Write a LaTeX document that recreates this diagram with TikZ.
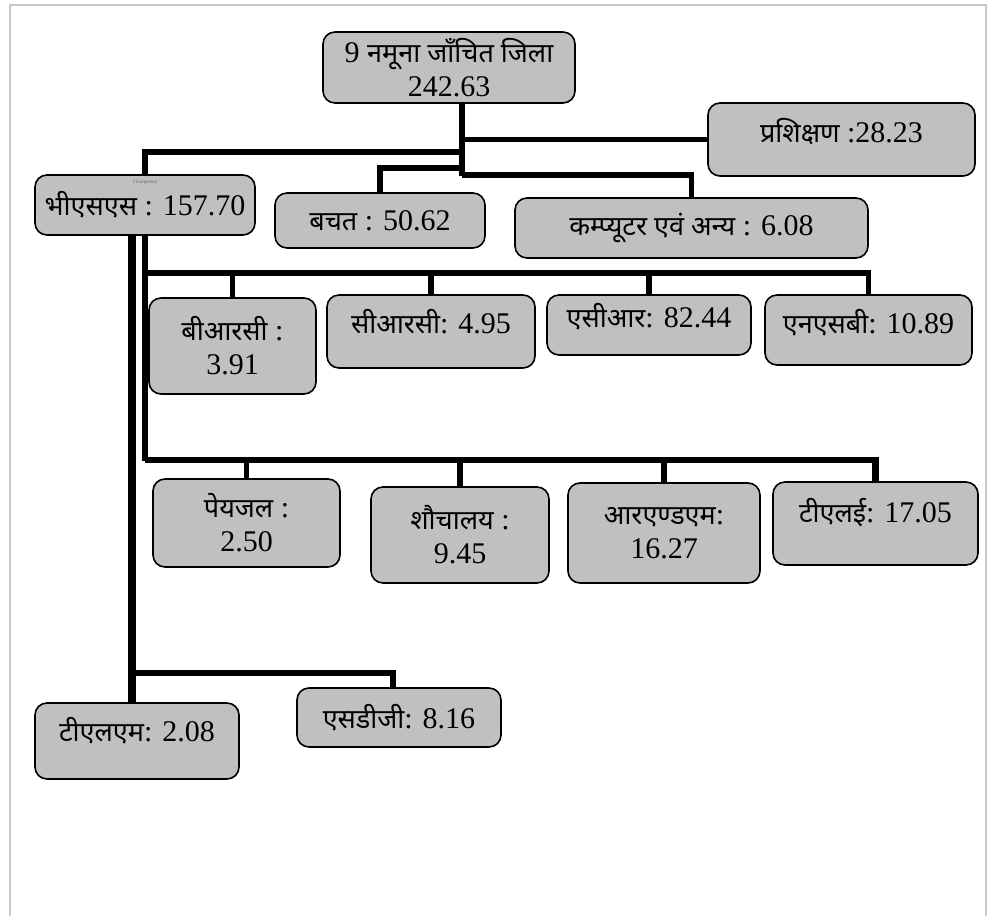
\documentclass[tikz,border=0pt]{standalone}
\usepackage{fontspec}
\usepackage{xcolor}
\usepackage{tikz}
\usetikzlibrary{positioning, calc}
\setmainfont{Liberation Serif}
\newfontfamily\hindi[Script=Devanagari,Scale=0.9]{Noto Sans}
\definecolor{boxfill}{RGB}{192,192,192}
\definecolor{framegray}{RGB}{200,200,200}
\tikzset{
  unit/.style={
    rectangle, rounded corners=6pt, draw=black, line width=0.8pt,
    fill=boxfill, align=center, inner sep=2pt,
    font=\fontsize{15}{17}\selectfont
  },
  lift/.style={text depth=#1},
  link/.style={draw, line width=2.8pt},
  spine/.style={draw, line width=4pt},
}
\newcommand{\hi}[1]{{\hindi #1}}

\begin{document}
\begin{tikzpicture}[x=0.5pt, y=-0.5pt]
  \useasboundingbox (0,0) rectangle (990,916);
  % outer frame, open at the bottom
  \draw[framegray, line width=1pt] (10,916) -- (10,5) -- (986,5) -- (986,916);

  % top level
  \node[unit, minimum width=126pt, minimum height=35.5pt] (root) at (449,67.5) {9 \hi{नमूना जाँचित जिला}\\242.63};
  \node[unit, lift=9pt, minimum width=133.5pt, minimum height=36.5pt] (train) at (841.5,139.5) {\hi{प्रशिक्षण} :28.23};
  \node[unit, minimum width=110pt, minimum height=30pt] (bss) at (145,205) {\hi{भीएसएस} : 157.70};
  \node[font=\fontsize{2.5}{3}\selectfont, text=black!60] (chair) at (145,182) {Chairperson};
  \node[unit, minimum width=105pt, minimum height=27.5pt] (bachat) at (380,220.5) {\hi{बचत} : 50.62};
  \node[unit, minimum width=176.5pt, minimum height=30pt] (comp) at (691.5,228) {\hi{कम्प्यूटर एवं अन्य} : 6.08};

  % first row under BSS
  \node[unit, minimum width=83.5pt, minimum height=48pt] (brc) at (232.5,346) {\hi{बीआरसी} :\\3.91};
  \node[unit, lift=10pt, minimum width=104pt, minimum height=36.5pt] (crc) at (431,331.5) {\hi{सीआरसी}: 4.95};
  \node[unit, lift=10pt, minimum width=102pt, minimum height=30pt] (acr) at (649,325) {\hi{एसीआर}: 82.44};
  \node[unit, lift=9pt, minimum width=103.5pt, minimum height=35pt] (nsb) at (868.5,330) {\hi{एनएसबी}: 10.89};

  % second row under BSS
  \node[unit, minimum width=93.5pt, minimum height=44pt] (peyjal) at (246.5,523) {\hi{पेयजल} :\\2.50};
  \node[unit, minimum width=89pt, minimum height=48pt] (shauch) at (460,535) {\hi{शौचालय} :\\9.45};
  \node[unit, minimum width=96pt, minimum height=50pt] (rnm) at (664,533) {\hi{आरएण्डएम}:\\16.27};
  \node[unit, lift=13pt, minimum width=102.5pt, minimum height=41.5pt] (tle) at (875.5,523.5) {\hi{टीएलई}: 17.05};

  % third row
  \node[unit, lift=12pt, minimum width=102pt, minimum height=38pt] (tlm) at (137,741) {\hi{टीएलएम}: 2.08};
  \node[unit, minimum width=102pt, minimum height=29.5pt] (sdg) at (399,717.5) {\hi{एसडीजी}: 8.16};

  % connectors from the top box
  \coordinate (trunk) at ([xshift=6.5pt]root.south);
  \draw[link] (trunk) -- (trunk |- 0,176);
  \draw[link] (trunk |- train.west) -- (train.west);
  \draw[link] (trunk |- 0,152) -| (bss.north);
  \draw[link] (trunk |- 0,168) -| (bachat.north);
  \draw[link] (trunk |- 0,175) -| (comp.north);

  % connectors below BSS
  \coordinate (spineL) at ([xshift=-6.5pt]bss.south);
  \draw[spine] (spineL) -- (spineL |- tlm.north);
  \draw[link] (bss.south) -- (bss.south |- 0,461);
  \draw[link] (bss.south |- 0,273) -| (nsb.north);
  \foreach \n in {brc, crc, acr}
    \draw[link] (\n.north) -- (\n.north |- 0,273);
  \draw[link, line width=3.4pt] (bss.south |- 0,460) -| (tle.north);
  \foreach \n in {peyjal, shauch, rnm}
    \draw[link] (\n.north) -- (\n.north |- 0,460);
  \draw[link] (spineL |- 0,673) -| ([xshift=-3pt]sdg.north);
\end{tikzpicture}
\end{document}
